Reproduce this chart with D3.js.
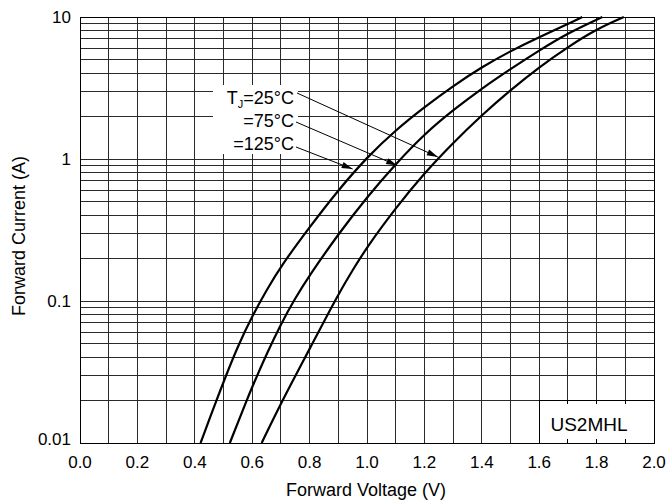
<!DOCTYPE html>
<html><head><meta charset="utf-8">
<script src="https://cdn.jsdelivr.net/npm/d3@7"></script>
<style>body{margin:0;background:#fff}svg{display:block;font-family:"Liberation Sans",Arial,sans-serif}</style>
</head><body><svg id="c" width="669" height="502"></svg>
<script>
const xTicks = [0.0,0.2,0.4,0.6,0.8,1.0,1.2,1.4,1.6,1.8,2.0];
const yTicks = [0.01,0.1,1,10];
const yTickLabels = ["0.01","0.1","1","10"];
const v125 = [0.42,0.476,0.5,0.55,0.6,0.65,0.7,0.8,0.9,1.0,1.1,1.2,1.3,1.4,1.5,1.6,1.7,1.75];
const i125 = [0.01,0.0201,0.0269,0.0482,0.0783,0.119,0.176,0.332,0.605,1.03,1.60,2.32,3.27,4.44,5.76,7.23,8.93,10];
const v75 = [0.522,0.58,0.6,0.65,0.7,0.75,0.8,0.9,1.0,1.1,1.2,1.3,1.4,1.5,1.6,1.7,1.82];
const i75 = [0.01,0.0198,0.0248,0.0424,0.0689,0.105,0.152,0.296,0.540,0.922,1.50,2.21,3.14,4.30,5.81,7.71,10];
const v25 = [0.633,0.7,0.8,0.9,0.95,1.0,1.1,1.2,1.3,1.4,1.5,1.6,1.7,1.8,1.895];
const i25 = [0.01,0.0191,0.0459,0.112,0.165,0.240,0.452,0.797,1.30,2.04,3.06,4.44,6.15,8.23,10];
const seriesNames = ["=125°C","=75°C","=25°C"];
const xTitle = "Forward Voltage (V)";
const yTitle = "Forward Current (A)";
const modelText = "US2MHL";

const svg = d3.select("#c");
const x = d3.scaleLinear().domain([0,2]).range([80,654]);
const y = d3.scaleLog().domain([0.01,10]).range([443,17]);

const grid = svg.append("g").attr("shape-rendering","crispEdges").attr("stroke","#2a2a2a").attr("stroke-width",1);
const xg = d3.range(0,21).map(k=>k/10);
grid.selectAll(".vx").data(xg).join("line").attr("x1",d=>x(d)).attr("x2",d=>x(d)).attr("y1",y(0.01)).attr("y2",y(10));
grid.selectAll(".hy").data(y.ticks()).join("line").attr("x1",x(0)).attr("x2",x(2)).attr("y1",d=>y(d)).attr("y2",d=>y(d));

// white box behind temperature labels
svg.append("rect").attr("x",213).attr("y",85).attr("width",85).attr("height",69).attr("fill","#fff");

// model box
const bx = svg.append("g");
bx.append("rect").attr("x",x(1.6)).attr("y",y(0.02)).attr("width",x(2)-x(1.6)).attr("height",y(0.01)-y(0.02)).attr("fill","#fff").attr("stroke","#000").attr("shape-rendering","crispEdges");
[1.7,1.8,1.9].forEach(v=>{
  bx.append("line").attr("x1",x(v)).attr("x2",x(v)).attr("y1",y(0.02)).attr("y2",y(0.02)+4).attr("stroke","#000").attr("shape-rendering","crispEdges");
  bx.append("line").attr("x1",x(v)).attr("x2",x(v)).attr("y1",y(0.01)-4).attr("y2",y(0.01)).attr("stroke","#000").attr("shape-rendering","crispEdges");
});
bx.append("text").attr("x",589).attr("y",431).attr("text-anchor","middle").attr("font-size",19).text(modelText);

// frame
svg.append("rect").attr("x",x(0)).attr("y",y(10)).attr("width",x(2)-x(0)).attr("height",y(0.01)-y(10)).attr("fill","none").attr("stroke","#000").attr("shape-rendering","crispEdges");

// curves
const line = d3.line().x(d=>x(d[0])).y(d=>y(d[1])).curve(d3.curveBasis);
[[v125,i125],[v75,i75],[v25,i25]].forEach(([vs,is])=>{
  svg.append("path").datum(vs.map((v,k)=>[v,is[k]])).attr("d",line).attr("fill","none").attr("stroke","#000").attr("stroke-width",2.2);
});

// labels and arrows
const lab = svg.append("g").attr("font-size",18);
const t1 = lab.append("text").attr("x",294).attr("y",103.5).attr("text-anchor","end");
t1.append("tspan").text("T");
t1.append("tspan").attr("font-size",11).attr("dy",4).text("J");
t1.append("tspan").attr("dy",-4).text("=25°C");
lab.append("text").attr("x",294).attr("y",126.5).attr("text-anchor","end").text(seriesNames[1]);
lab.append("text").attr("x",294).attr("y",149.5).attr("text-anchor","end").text(seriesNames[0]);

function arrow(x1,y1,x2,y2){
  svg.append("line").attr("x1",x1).attr("y1",y1).attr("x2",x2).attr("y2",y2).attr("stroke","#000").attr("stroke-width",1);
  const a = Math.atan2(y2-y1,x2-x1), L=11, W=3.2;
  const bxp = x2-L*Math.cos(a), byp = y2-L*Math.sin(a);
  const px = -Math.sin(a)*W, py = Math.cos(a)*W;
  svg.append("path").attr("d",`M${x2},${y2}L${bxp+px},${byp+py}L${bxp-px},${byp-py}Z`).attr("fill","#000");
}
arrow(297,93,x(1.247),y(1.0)-2);
arrow(296,122,x(1.105),y(0.9));
arrow(296,147,x(0.95),y(0.85));

// axes tick labels
const tl = svg.append("g").attr("font-size",17).attr("fill","#000");
tl.selectAll(".xt").data(xTicks).join("text").attr("x",d=>x(d)).attr("y",468).attr("text-anchor","middle").text(d=>d.toFixed(1));
tl.selectAll(".yt").data(yTicks).join("text").attr("x",71).attr("y",(d,k)=>y(d)+(k===0?2:6)).attr("text-anchor","end").text((d,k)=>yTickLabels[k]);

svg.append("text").attr("x",366).attr("y",496).attr("text-anchor","middle").attr("font-size",18).text(xTitle);
svg.append("text").attr("transform","translate(25,236) rotate(-90)").attr("text-anchor","middle").attr("font-size",18).text(yTitle);
</script></body></html>
